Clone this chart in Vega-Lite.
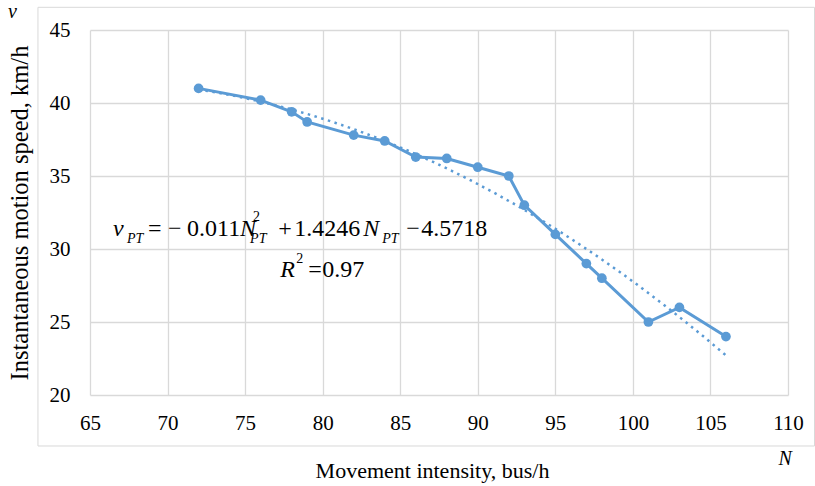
{
  "$schema": "https://vega.github.io/schema/vega-lite/v6.json",
  "width": 698,
  "height": 365,
  "autosize": "none",
  "padding": {"left": 90, "top": 30, "right": 27, "bottom": 91},
  "background": "white",
  "config": {"view": {"stroke": null}, "font": "Liberation Serif"},
  "datasets": {
    "obs": [
      {"N": 72, "v": 41}, {"N": 76, "v": 40.2}, {"N": 78, "v": 39.4}, {"N": 79, "v": 38.7},
      {"N": 82, "v": 37.8}, {"N": 84, "v": 37.4}, {"N": 86, "v": 36.3}, {"N": 88, "v": 36.2},
      {"N": 90, "v": 35.6}, {"N": 92, "v": 35}, {"N": 93, "v": 33}, {"N": 95, "v": 31},
      {"N": 97, "v": 29}, {"N": 98, "v": 28}, {"N": 101, "v": 25}, {"N": 103, "v": 26},
      {"N": 106, "v": 24}
    ],
    "eqMain": [
      {"t": "=", "N": 68.742, "v": 30.89},
      {"t": "−", "N": 70.032, "v": 30.89},
      {"t": "0.011", "N": 71.258, "v": 30.89},
      {"t": "+", "N": 77.129, "v": 30.89},
      {"t": "1.4246", "N": 78.161, "v": 30.89},
      {"t": "−", "N": 85.387, "v": 30.89},
      {"t": "4.5718", "N": 86.355, "v": 30.89},
      {"t": "=", "N": 79.065, "v": 28.082},
      {"t": "0.97", "N": 79.968, "v": 28.082}
    ],
    "eqItalic": [
      {"t": "v", "N": 66.484, "v": 30.89},
      {"t": "N", "N": 74.677, "v": 30.89},
      {"t": "N", "N": 82.613, "v": 30.89},
      {"t": "R", "N": 77.258, "v": 28.082}
    ],
    "eqSub": [
      {"t": "PT", "N": 67.387, "v": 30.411},
      {"t": "PT", "N": 75.323, "v": 30.411},
      {"t": "PT", "N": 83.839, "v": 30.411}
    ],
    "eqSup": [
      {"t": "2", "N": 75.516, "v": 31.918},
      {"t": "2", "N": 78.29, "v": 29.041}
    ],
    "one": [{}]
  },
  "layer": [
    {
      "data": {"name": "obs"},
      "transform": [{"regression": "v", "on": "N", "method": "poly", "order": 2}],
      "mark": {"type": "line", "color": "#5B9BD5", "strokeWidth": 2.5, "strokeDash": [2.5, 4.5]},
      "encoding": {
        "x": {"field": "N", "type": "quantitative", "scale": {"domain": [65, 110], "nice": false, "zero": false},
          "axis": {
            "values": [65, 70, 75, 80, 85, 90, 95, 100, 105, 110],
            "grid": true, "gridColor": "#D9D9D9", "gridWidth": 1.3,
            "domain": false, "ticks": false, "tickSize": 0,
            "labelFont": "Liberation Serif", "labelFontSize": 21, "labelColor": "#000000",
            "labelBaseline": "alphabetic", "labelPadding": 34, "labelFlush": false,
            "title": "Movement intensity, bus/h",
            "titleFont": "Liberation Serif", "titleFontSize": 22, "titleFontWeight": "normal", "titleColor": "#000000",
            "titleBaseline": "alphabetic", "titleAlign": "center", "titleX": 342, "titleY": 82
          }},
        "y": {"field": "v", "type": "quantitative", "scale": {"domain": [20, 45], "nice": false, "zero": false},
          "axis": {
            "values": [20, 25, 30, 35, 40, 45],
            "grid": true, "gridColor": "#D9D9D9", "gridWidth": 1.3,
            "domain": false, "ticks": false, "tickSize": 0,
            "labelFont": "Liberation Serif", "labelFontSize": 21, "labelColor": "#000000",
            "labelPadding": 20, "labelFlush": false,
            "title": "Instantaneous motion speed, km/h",
            "titleFont": "Liberation Serif", "titleFontSize": 24.5, "titleFontWeight": "normal", "titleColor": "#000000",
            "titleBaseline": "middle", "titleAlign": "center", "titleAngle": -90, "titleX": -70, "titleY": 182.5
          }}
      }
    },
    {
      "data": {"name": "one"},
      "mark": {"type": "rect", "fill": null, "stroke": "#D9D9D9", "strokeWidth": 1},
      "encoding": {
        "x": {"datum": 61.645, "type": "quantitative", "scale": {"domain": [65, 110], "nice": false, "zero": false}},
        "x2": {"datum": 111.71},
        "y": {"datum": 16.507, "type": "quantitative", "scale": {"domain": [20, 45], "nice": false, "zero": false}},
        "y2": {"datum": 46.555}
      }
    },
    {
      "data": {"name": "obs"},
      "mark": {"type": "line", "color": "#5B9BD5", "strokeWidth": 3, "point": {"filled": true, "size": 95, "color": "#5B9BD5", "opacity": 1}},
      "encoding": {
        "x": {"field": "N", "type": "quantitative", "scale": {"domain": [65, 110], "nice": false, "zero": false}},
        "y": {"field": "v", "type": "quantitative", "scale": {"domain": [20, 45], "nice": false, "zero": false}}
      }
    },
    {
      "data": {"name": "eqMain"},
      "mark": {"type": "text", "font": "Liberation Serif", "fontSize": 24, "align": "left", "baseline": "alphabetic", "color": "#000000"},
      "encoding": {
        "x": {"field": "N", "type": "quantitative", "scale": {"domain": [65, 110], "nice": false, "zero": false}},
        "y": {"field": "v", "type": "quantitative", "scale": {"domain": [20, 45], "nice": false, "zero": false}},
        "text": {"field": "t"}
      }
    },
    {
      "data": {"name": "eqItalic"},
      "mark": {"type": "text", "font": "Liberation Serif", "fontSize": 24, "fontStyle": "italic", "align": "left", "baseline": "alphabetic", "color": "#000000"},
      "encoding": {
        "x": {"field": "N", "type": "quantitative", "scale": {"domain": [65, 110], "nice": false, "zero": false}},
        "y": {"field": "v", "type": "quantitative", "scale": {"domain": [20, 45], "nice": false, "zero": false}},
        "text": {"field": "t"}
      }
    },
    {
      "data": {"name": "eqSub"},
      "mark": {"type": "text", "font": "Liberation Serif", "fontSize": 14, "fontStyle": "italic", "align": "left", "baseline": "alphabetic", "color": "#000000"},
      "encoding": {
        "x": {"field": "N", "type": "quantitative", "scale": {"domain": [65, 110], "nice": false, "zero": false}},
        "y": {"field": "v", "type": "quantitative", "scale": {"domain": [20, 45], "nice": false, "zero": false}},
        "text": {"field": "t"}
      }
    },
    {
      "data": {"name": "eqSup"},
      "mark": {"type": "text", "font": "Liberation Serif", "fontSize": 14, "align": "left", "baseline": "alphabetic", "color": "#000000"},
      "encoding": {
        "x": {"field": "N", "type": "quantitative", "scale": {"domain": [65, 110], "nice": false, "zero": false}},
        "y": {"field": "v", "type": "quantitative", "scale": {"domain": [20, 45], "nice": false, "zero": false}},
        "text": {"field": "t"}
      }
    },
    {
      "data": {"name": "one"},
      "mark": {"type": "text", "text": "v", "font": "Liberation Serif", "fontSize": 20, "fontStyle": "italic", "align": "left", "baseline": "alphabetic", "color": "#000000"},
      "encoding": {
        "x": {"datum": 59.71, "type": "quantitative", "scale": {"domain": [65, 110], "nice": false, "zero": false}},
        "y": {"datum": 45.79, "type": "quantitative", "scale": {"domain": [20, 45], "nice": false, "zero": false}}
      }
    },
    {
      "data": {"name": "one"},
      "mark": {"type": "text", "text": "N", "font": "Liberation Serif", "fontSize": 20, "fontStyle": "italic", "align": "left", "baseline": "alphabetic", "color": "#000000"},
      "encoding": {
        "x": {"datum": 109.39, "type": "quantitative", "scale": {"domain": [65, 110], "nice": false, "zero": false}},
        "y": {"datum": 15.205, "type": "quantitative", "scale": {"domain": [20, 45], "nice": false, "zero": false}}
      }
    }
  ]
}
